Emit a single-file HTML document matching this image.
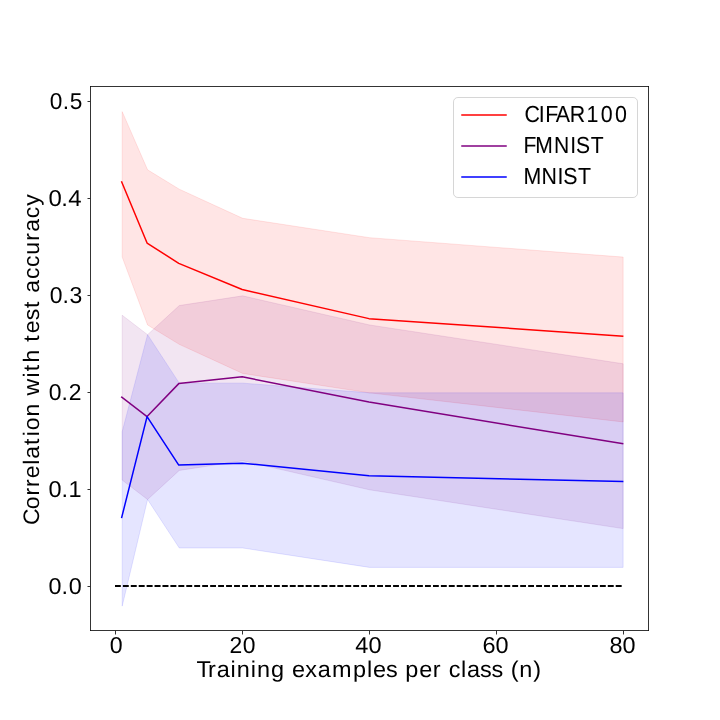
<!DOCTYPE html>
<html lang="en">
<head>
<meta charset="utf-8">
<title>Correlation with test accuracy vs. training examples per class</title>
<style>
html,body{margin:0;padding:0;background:#ffffff;}
body{width:720px;height:720px;overflow:hidden;font-family:"Liberation Sans",sans-serif;}
svg{display:block;will-change:transform;}
text{font-family:"Liberation Sans",sans-serif;fill:#000000;text-rendering:geometricPrecision;white-space:pre;}
.tick{font-size:23px;}
.xl{font-size:22.75px;}
.yl{font-size:22.45px;}
.leg{font-size:23.2px;stroke:#000000;stroke-width:0.05;}
.sp{stroke:#000000;stroke-width:0.8;fill:none;}
.ln{fill:none;stroke-width:1.5;stroke-linejoin:round;stroke-linecap:square;}
.band{fill-opacity:0.1;stroke-opacity:0.1;stroke-width:1;stroke-linejoin:round;}
</style>
</head>
<body>
<svg width="720" height="720" viewBox="0 0 720 720">
<rect x="0" y="0" width="720" height="720" fill="#ffffff"/>
<!-- confidence bands -->
<polygon class="band" transform="translate(0.5 0.5)" fill="#ff0000" stroke="#ff0000" points="121.7,111.13 147.07,169.31 178.77,188.7 242.18,217.79 369,237.19 622.64,256.58 622.64,421.43 369,392.34 242.18,372.95 178.77,343.85 147.07,324.46 121.7,256.58"/>
<polygon class="band" transform="translate(0.5 0.5)" fill="#800080" stroke="#800080" points="121.7,314.76 147.07,334.16 178.77,305.07 242.18,295.37 369,324.46 622.64,363.25 622.64,528.1 369,489.31 242.18,460.22 178.77,469.92 147.07,499.01 121.7,479.61"/>
<polygon class="band" transform="translate(0.5 0.5)" fill="#0000ff" stroke="#0000ff" points="121.7,431.13 147.07,334.16 178.77,382.64 242.18,382.64 369,392.34 622.64,392.34 622.64,566.88 369,566.88 242.18,547.49 178.77,547.49 147.07,499.01 121.7,605.67"/>
<!-- mean lines -->
<polyline class="ln" stroke="#ff0000" points="121.7,181.92 147.07,243.01 178.77,263.37 242.18,289.55 369,318.64 622.64,336.1"/>
<polyline class="ln" stroke="#800080" points="121.7,397.19 147.07,416.58 178.77,383.61 242.18,376.82 369,402.04 622.64,443.73"/>
<polyline class="ln" stroke="#0000ff" points="121.7,517.43 147.07,416.58 178.77,465.07 242.18,463.13 369,475.73 622.64,481.55"/>
<!-- zero reference (dashed), drawn once per dataset as in the source figure -->
<line x1="115" y1="586" x2="623" y2="586" stroke="#000000" stroke-width="1.5" stroke-dasharray="5.55 2.4"/>
<line x1="115" y1="586" x2="623" y2="586" stroke="#000000" stroke-width="1.5" stroke-dasharray="5.55 2.4"/>
<line x1="115" y1="586" x2="623" y2="586" stroke="#000000" stroke-width="1.5" stroke-dasharray="5.55 2.4"/>
<!-- axes frame -->
<path class="sp" d="M90.5 86.1V630.9M648.5 86.1V630.9M90.1 86.5H648.9M90.1 630.5H648.9"/>
<!-- ticks -->
<path class="sp" d="M115.5 630.9V634.5M242.5 630.9V634.5M369.5 630.9V634.5M496.5 630.9V634.5M623.5 630.9V634.5M87.5 586.5H90.1M87.5 489.5H90.1M87.5 392.5H90.1M87.5 295.5H90.1M87.5 198.5H90.1M87.5 101.5H90.1"/>
<!-- x tick labels -->
<text class="tick" transform="translate(109.84 653) scale(1.0083 1)" x="0">0</text>
<text class="tick" transform="translate(229.38 653) scale(0.9955 1)" x="0 13.37">20</text>
<text class="tick" transform="translate(355.37 653) scale(1.0234 1)" x="0 12.84">40</text>
<text class="tick" transform="translate(482.41 653) scale(1.0206 1)" x="0 12.93">60</text>
<text class="tick" transform="translate(609.55 653) scale(1.0187 1)" x="0 12.76">80</text>
<!-- y tick labels -->
<text class="tick" transform="translate(48.41 594) scale(1.0157 1)" x="0 12.84 19.98">0.0</text>
<text class="tick" transform="translate(48.41 497) scale(1.0214 1)" x="0 12.79 19.55">0.1</text>
<text class="tick" transform="translate(48.68 400) scale(0.9947 1)" x="0 12.94 20.31">0.2</text>
<text class="tick" transform="translate(49.86 303) scale(0.9976 1)" x="0 12.61 19.77">0.3</text>
<text class="tick" transform="translate(48.59 206) scale(1.0407 1)" x="0 12.25 18.95">0.4</text>
<text class="tick" transform="translate(49.64 109) scale(0.9851 1)" x="0 13.34 20.51">0.5</text>
<!-- axis labels -->
<text class="xl" transform="translate(196.47 677) scale(1.031 1)" x="0 11.21 19.79 32.9 39.15 52.54 58.6 72.26 85.48 92.74 105.41 117.54 131.36 151.9 165.5 171.27 183.95 195.24 202.4 216.14 229.21 237.47 244.81 256.67 262.47 275.01 286.13 297.22 304.77 313 326.61">Training examples per class (n)</text>
<text class="yl" transform="translate(39 524.94) rotate(-90) scale(1.0237 1)" x="0 15.29 28.8 36.98 45.72 58.72 64.56 77.98 86.6 92.6 106.02 119.03 126.43 143.94 150.05 158.8 171.45 178.85 187.17 199.87 211.82 219.56 226.74 240.33 252.04 263.85 277.51 286.35 299.59 311.9">Correlation with test accuracy</text>
<!-- legend -->
<rect x="453.5" y="97.5" width="184" height="100" rx="4.4" ry="4.4" fill="#ffffff" fill-opacity="0.8" stroke="#cccccc" stroke-opacity="0.8" stroke-width="1"/>
<line class="ln" stroke="#ff0000" x1="462" y1="115" x2="506" y2="115"/>
<line class="ln" stroke="#800080" x1="462" y1="146" x2="506" y2="146"/>
<line class="ln" stroke="#0000ff" x1="462" y1="177" x2="506" y2="177"/>
<text class="leg" transform="translate(524.55 122) scale(0.9226 1)" x="0 15.28 22.32 33.76 48.9 67.04 82.51 98">CIFAR100</text>
<text class="leg" transform="translate(523.5 153) scale(0.9091 1)" x="0 12.85 33.62 51.51 57.64 73.86">FMNIST</text>
<text class="leg" transform="translate(523.47 184) scale(0.9208 1)" x="0 19.65 37.05 43.12 59.18">MNIST</text>
</svg>
</body>
</html>
